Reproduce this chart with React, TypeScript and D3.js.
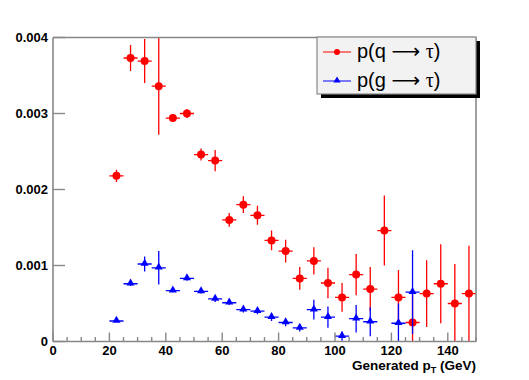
import React from "react";
import * as d3 from "d3";

// bin centres in GeV (5 GeV bins)
const binCenters = [22.5, 27.5, 32.5, 37.5, 42.5, 47.5, 52.5, 57.5, 62.5, 67.5, 72.5, 77.5, 82.5, 87.5, 92.5, 97.5, 102.5, 107.5, 112.5, 117.5, 122.5, 127.5, 132.5, 137.5, 142.5, 147.5];
const binHalfWidth = 2.5;

// p(q -> tau)
const quarkValues = [0.00218, 0.00373, 0.00369, 0.00336, 0.00294, 0.0030, 0.00246, 0.00238, 0.0016, 0.0018, 0.00166, 0.00133, 0.00119, 0.00083, 0.00106, 0.00077, 0.00058, 0.00088, 0.00069, 0.00146, 0.00058, 0.00025, 0.00063, 0.00076, 0.0005, 0.00063];
const quarkErrors = [0.00008, 0.00017, 0.00029, 0.00064, 0.00005, 0.00006, 0.00008, 0.00014, 0.00009, 0.00011, 0.000125, 0.00013, 0.00015, 0.00015, 0.00018, 0.0002, 0.00019, 0.00027, 0.00029, 0.00046, 0.00036, 0.00038, 0.00044, 0.00052, 0.00052, 0.00063];

// p(g -> tau), null = empty bin
const gluonValues = [0.00027, 0.00076, 0.00102, 0.00097, 0.00067, 0.00083, 0.00066, 0.00056, 0.00051, 0.00042, 0.0004, 0.00032, 0.00025, 0.00018, 0.00042, 0.00032, 0.00007, 0.0003, 0.00026, null, 0.00024, 0.00065, null, null, null, null];
const gluonErrors = [0.00001, 0.00003, 0.0001, 0.00022, 0.00002, 0.00003, 0.00003, 0.00004, 0.00003, 0.00004, 0.00004, 0.00005, 0.00005, 0.00005, 0.00013, 0.00014, 0.00006, 0.00018, 0.00019, null, 0.00026, 0.00055, null, null, null, null];

const yTicks = [0, 0.001, 0.002, 0.003, 0.004];
const yTickLabels = ["0", "0.001", "0.002", "0.003", "0.004"];
const xMajorTicks = [0, 20, 40, 60, 80, 100, 120, 140];

const width = 529;
const height = 380;
const frame = { left: 53, right: 476, top: 37.5, bottom: 341.5 };

export default function App() {
  const x = d3.scaleLinear().domain([0, 150]).range([frame.left, frame.right]);
  const y = d3.scaleLinear().domain([0, 0.004]).range([frame.bottom, frame.top]);
  const xMinor = d3.range(0, 151, 5).filter(v => v % 20 !== 0);

  const quark = binCenters.map((c, i) => ({ c, v: quarkValues[i], e: quarkErrors[i] }));
  const gluon = binCenters
    .map((c, i) => ({ c, v: gluonValues[i], e: gluonErrors[i] }))
    .filter(d => d.v !== null) as { c: number; v: number; e: number }[];

  const tri = d3.symbol().type(d3.symbolTriangle).size(28)();

  const errorBars = (data: { c: number; v: number; e: number }[], color: string) =>
    data.map((d, i) => (
      <g key={i} stroke={color} strokeWidth={1.3}>
        <line x1={x(d.c - binHalfWidth)} x2={x(d.c + binHalfWidth)} y1={y(d.v)} y2={y(d.v)} />
        <line x1={x(d.c)} x2={x(d.c)} y1={y(d.v - d.e)} y2={y(d.v + d.e)} />
      </g>
    ));

  const fontFam = "'Liberation Sans', Arial, sans-serif";

  return (
    <div style={{ position: "absolute", left: 0, top: 0 }}>
      <svg width={width} height={height} style={{ display: "block", background: "#fff" }}>
        <defs>
          <clipPath id="plotClip">
            <rect x={frame.left} y={frame.top} width={frame.right - frame.left} height={frame.bottom - frame.top} />
          </clipPath>
        </defs>

        {/* data */}
        <g clipPath="url(#plotClip)">
          {errorBars(quark, "#ff0000")}
          {quark.map((d, i) => (
            <circle key={i} cx={x(d.c)} cy={y(d.v)} r={4} fill="#ff0000" />
          ))}
          {errorBars(gluon, "#0000ff")}
          {gluon.map((d, i) => (
            <path key={i} d={tri!} transform={`translate(${x(d.c)},${y(d.v) - 0.5})`} fill="#0000ff" />
          ))}
        </g>

        {/* frame */}
        <g stroke="#888" strokeWidth={1.6} fill="none">
          <line x1={frame.left} x2={frame.right} y1={frame.top} y2={frame.top} />
          <line x1={frame.right} x2={frame.right} y1={frame.top} y2={frame.bottom} />
          <line x1={frame.left} x2={frame.left} y1={frame.top} y2={frame.bottom} />
          <line x1={frame.left} x2={frame.right} y1={frame.bottom} y2={frame.bottom} />
        </g>

        {/* y axis ticks */}
        <g stroke="#888" strokeWidth={1.4}>
          {yTicks.map((t, i) => (
            <line key={i} x1={frame.left} x2={frame.left + 12} y1={y(t)} y2={y(t)} />
          ))}
        </g>
        <g fontFamily={fontFam} fontWeight="bold" fontSize={13} textAnchor="end">
          {yTicks.map((t, i) => (
            <text key={i} x={frame.left - 5} y={y(t) + 4.5}>{yTickLabels[i]}</text>
          ))}
        </g>

        {/* x axis ticks */}
        <g stroke="#888" strokeWidth={1.4}>
          {xMajorTicks.map((t, i) => (
            <line key={i} x1={x(t)} x2={x(t)} y1={frame.bottom} y2={frame.bottom - 9} />
          ))}
          {xMinor.map((t, i) => (
            <line key={"m" + i} x1={x(t)} x2={x(t)} y1={frame.bottom} y2={frame.bottom - 4.5} />
          ))}
        </g>
        <g fontFamily={fontFam} fontWeight="bold" fontSize={13} textAnchor="middle">
          {xMajorTicks.map((t, i) => (
            <text key={i} x={x(t)} y={355}>{t}</text>
          ))}
        </g>
        <text x={frame.right} y={369.5} textAnchor="end" fontFamily={fontFam} fontWeight="bold" fontSize={13.5}>
          Generated p<tspan fontSize={9} dy={3}>T</tspan><tspan dy={-3}> (GeV)</tspan>
        </text>

        {/* legend */}
        <rect x={321} y={41} width={159} height={57} fill="#000" />
        <rect x={317} y={37} width={159} height={57} fill="#f2f2f2" stroke="#888" strokeWidth={1.2} />
        <g>
          <line x1={323} x2={351} y1={52} y2={52} stroke="#ff0000" strokeWidth={1} />
          <circle cx={337} cy={52} r={3} fill="#ff0000" />
          <line x1={323} x2={351} y1={81} y2={81} stroke="#0000ff" strokeWidth={1} />
          <path d={d3.symbol().type(d3.symbolTriangle).size(22)()!} transform="translate(337,80.5)" fill="#0000ff" />
        </g>
        <g fontFamily={fontFam} fontSize={20}>
          <text x={357} y={58}>
            p(q <tspan fontFamily="'DejaVu Sans'">⟶</tspan> <tspan fontFamily="'Liberation Serif'">τ</tspan>)
          </text>
          <text x={357} y={86.5}>
            p(g <tspan fontFamily="'DejaVu Sans'">⟶</tspan> <tspan fontFamily="'Liberation Serif'">τ</tspan>)
          </text>
        </g>
      </svg>
    </div>
  );
}
